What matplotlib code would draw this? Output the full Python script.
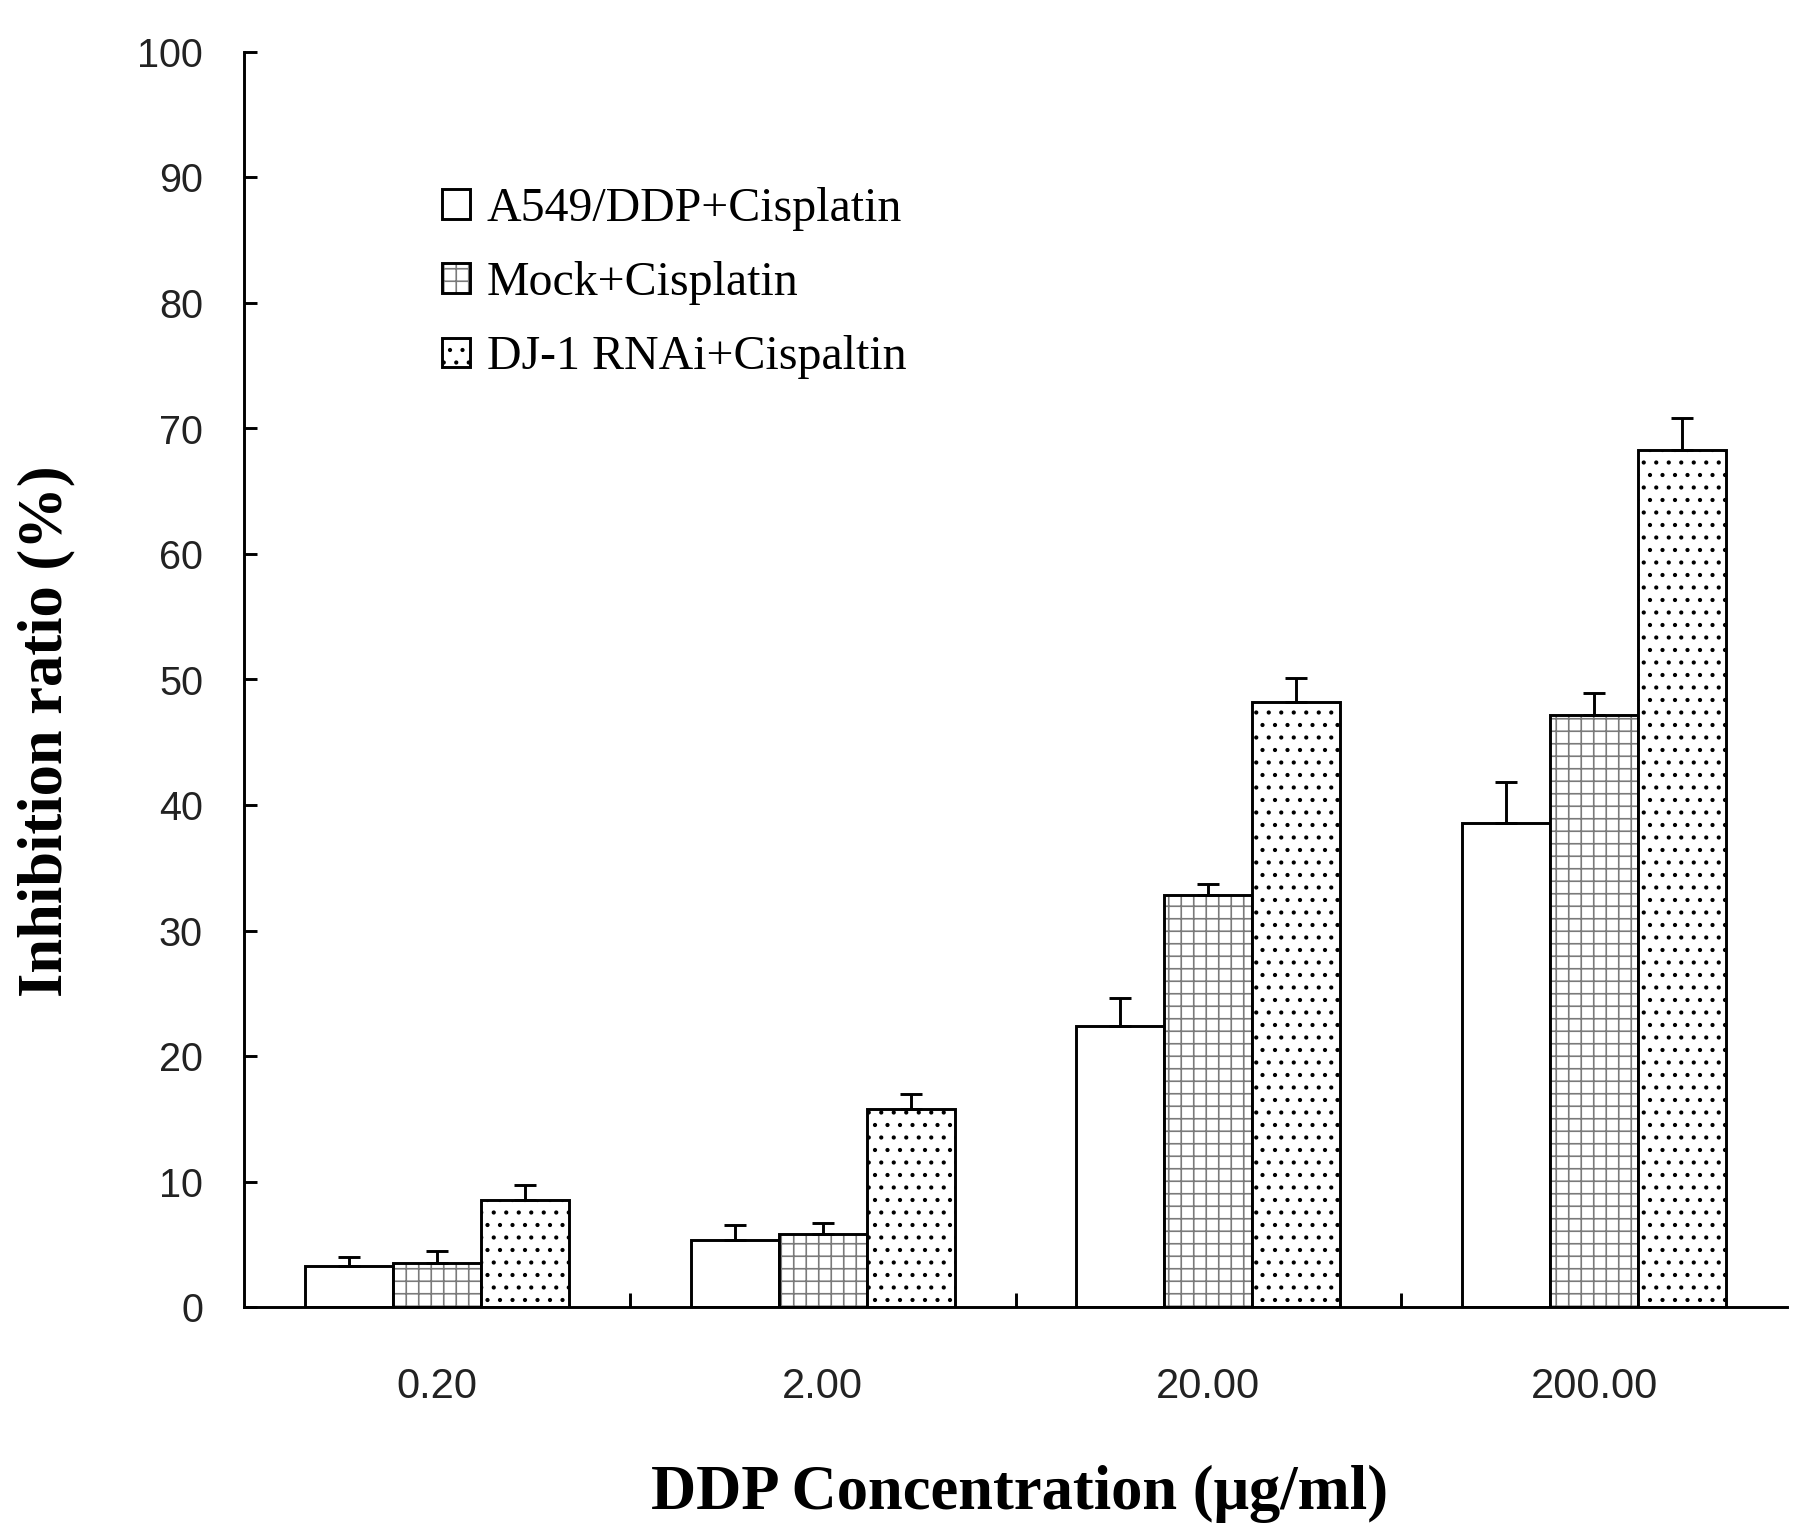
import numpy as np
import matplotlib
matplotlib.use("Agg")
import matplotlib.pyplot as plt
from matplotlib.patches import Patch

# values
concentrations = ["0.20", "2.00", "20.00", "200.00"]
series_names = ["A549/DDP+Cisplatin", "Mock+Cisplatin", "DJ-1 RNAi+Cispaltin"]
a549_mean = [3.3, 5.3, 22.4, 38.6]
a549_err = [0.7, 1.2, 2.2, 3.2]
mock_mean = [3.5, 5.8, 32.8, 47.2]
mock_err = [1.0, 0.9, 0.9, 1.7]
rnai_mean = [8.5, 15.8, 48.2, 68.3]
rnai_err = [1.2, 1.2, 1.9, 2.5]

plt.rcParams["hatch.linewidth"] = 0.8

fig = plt.figure(figsize=(1813 / 150, 1540 / 150), dpi=150)
ax = fig.add_axes([244 / 1813, 1 - 1307 / 1540, (1787 - 244) / 1813, (1307 - 52) / 1540])

x = np.arange(len(concentrations))
w = 0.228
lw = 1.4
grid_gray = "#7a7a7a"

# white bars
ax.bar(x - w, a549_mean, w, facecolor="white", edgecolor="black", linewidth=lw)
# grid-hatched bars: gray hatch, black outline drawn on top
ax.bar(x, mock_mean, w, facecolor="white", edgecolor=grid_gray, hatch="++", linewidth=0)
ax.bar(x, mock_mean, w, fill=False, edgecolor="black", linewidth=lw)
# dotted bars
ax.bar(x + w, rnai_mean, w, facecolor="white", edgecolor="black", hatch="..", linewidth=lw)

# upper error bars only
for xs, m, e in [(x - w, a549_mean, a549_err), (x, mock_mean, mock_err), (x + w, rnai_mean, rnai_err)]:
    ax.errorbar(xs, m, yerr=[np.zeros(len(e)), e], fmt="none", ecolor="black",
                elinewidth=lw, capsize=5.5, capthick=lw)

ax.set_xlim(-0.5, 3.5)
ax.set_ylim(0, 100)
ax.spines["top"].set_visible(False)
ax.spines["right"].set_visible(False)
ax.spines["left"].set_linewidth(lw)
ax.spines["bottom"].set_linewidth(lw)

ax.set_yticks(np.arange(0, 101, 10))
ax.tick_params(axis="y", direction="in", length=6.2, width=lw, pad=19.7,
               labelsize=19, labelcolor="#222222")
ax.set_xticks(x)
ax.set_xticklabels(concentrations)
ax.tick_params(axis="x", which="major", length=0, pad=28.6, labelsize=20, labelcolor="#222222")
ax.set_xticks([0.5, 1.5, 2.5], minor=True)
ax.tick_params(axis="x", which="minor", direction="in", length=6.7, width=lw)
for lab in ax.get_xticklabels() + ax.get_yticklabels():
    lab.set_fontfamily("Liberation Sans")

fig.text(46 / 1813, 1 - 731 / 1540, "Inhibition ratio (%)", rotation=90, ha="center", va="center",
         fontsize=30, fontweight="bold", fontfamily="Liberation Serif")
fig.text(1020 / 1813, 1 - 1494 / 1540, "DDP Concentration (\u03bcg/ml)", ha="center", va="center",
         fontsize=30, fontweight="bold", fontfamily="Liberation Serif")

h1 = Patch(facecolor="white", edgecolor="black", linewidth=lw)
h2 = (Patch(facecolor="white", edgecolor=grid_gray, hatch="++", linewidth=0),
      Patch(fill=False, edgecolor="black", linewidth=lw))
h3 = Patch(facecolor="white", edgecolor="black", hatch="..", linewidth=lw)
ax.legend([h1, h2, h3], series_names, loc="upper left",
          bbox_to_anchor=(442 / 1813, 1 - 187 / 1540), bbox_transform=fig.transFigure,
          frameon=False, borderpad=0, borderaxespad=0, handlelength=0.58, handleheight=0.58,
          handletextpad=0.35, labelspacing=0.63,
          prop={"family": "Liberation Serif", "size": 23})

fig.savefig("out.png", dpi=150)
